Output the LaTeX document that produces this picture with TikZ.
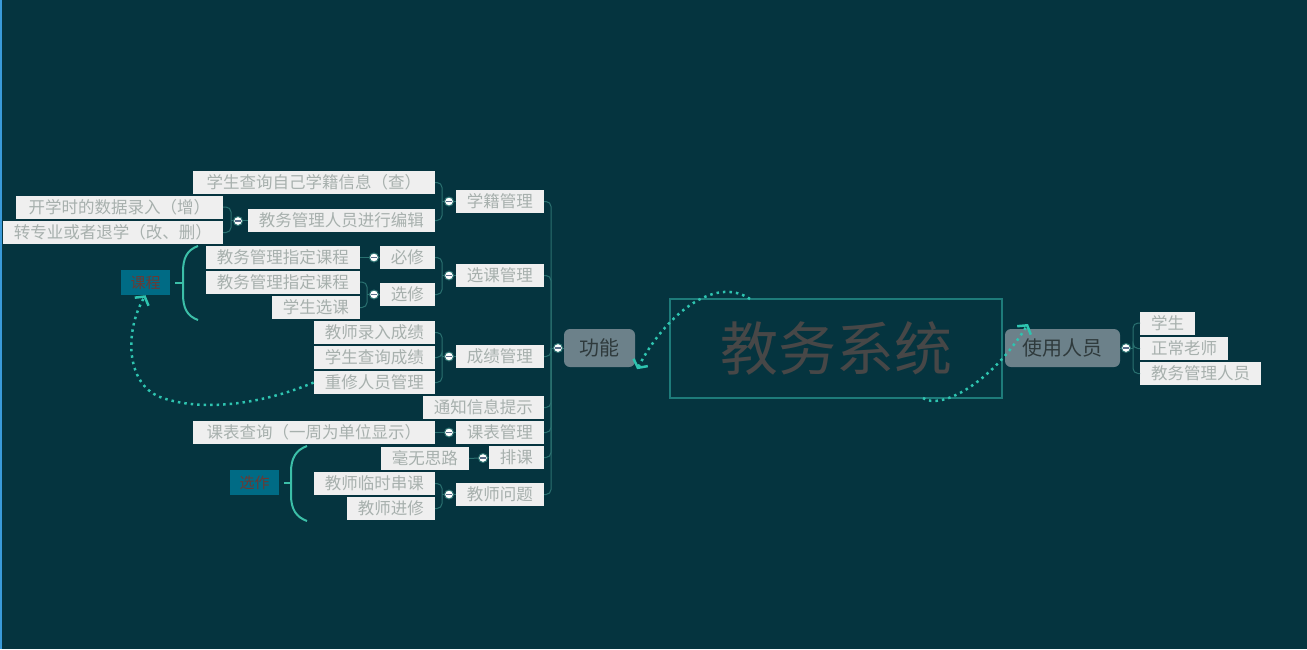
\documentclass[tikz,border=0pt]{standalone}
\usepackage{fontspec}
\setmainfont{Noto Sans CJK SC}
\usetikzlibrary{arrows.meta}

\definecolor{bgcol}{HTML}{05343F}
\definecolor{leftcol}{HTML}{3A9AD9}
\definecolor{leafbg}{HTML}{EFEFEF}
\definecolor{leaftext}{HTML}{A7B0AD}
\definecolor{linecol}{HTML}{2A7170}
\definecolor{topicbg}{HTML}{6C818A}
\definecolor{topictext}{HTML}{2F3A3C}
\definecolor{tagbg}{HTML}{006B85}
\definecolor{tagtext}{HTML}{6A3A34}
\definecolor{mainframe}{HTML}{1E7B7A}
\definecolor{maintext}{HTML}{474747}
\definecolor{relcol}{HTML}{2EC4B0}
\definecolor{bracecol}{HTML}{3CBFA8}
\definecolor{minuscol}{HTML}{5A6E8A}

\begin{document}
\begin{tikzpicture}[x=1pt,y=-1pt,
    leaf/.style={fill=leafbg, text=leaftext, inner xsep=11pt, inner ysep=0pt,
      minimum height=23pt, font=\fontsize{16.5}{18}\selectfont},
    topic/.style={fill=topicbg, text=topictext, rounded corners=6pt, inner sep=0pt,
      minimum height=38pt, font=\fontsize{20}{22}\selectfont},
    tag/.style={fill=tagbg, text=tagtext, inner sep=0pt, minimum width=49pt,
      minimum height=25pt, font=\fontsize{15}{16}\selectfont},
    link/.style={draw=linecol, line width=1pt, rounded corners=5pt},
    fold/.style={circle, fill=white, draw=linecol, line width=1pt, minimum size=9pt, inner sep=0pt,
      path picture={\draw[minuscol, line width=1.3pt]
        ([xshift=-2.6pt]path picture bounding box.center) -- ([xshift=2.6pt]path picture bounding box.center);}},
    rel/.style={draw=relcol, line width=2.5pt, dash pattern=on 2.5pt off 4pt,
      -{Straight Barb[length=6pt,width=16pt]}},
    brace/.style={draw=bracecol, line width=2pt}]

    % background
    \fill[bgcol] (0,0) rectangle (1307,649);
    \useasboundingbox (0,0) rectangle (1307,649);
    \draw[leftcol, line width=2pt] (1,0) -- (1,649);

    % central topic
    \node[draw=mainframe, line width=1.5pt, minimum width=332pt, minimum height=99pt, inner sep=0pt,
      text=maintext, font=\fontsize{58}{60}\selectfont] (zhuti) at (836,348.5) {教务系统};
    \node[topic, minimum width=71pt] (gongneng) at (599.5,348) {功能};
    \node[topic, minimum width=115pt] (renyuan) at (1062.5,348) {使用人员};

    % right side
    \node[leaf, anchor=west] (xuesheng) at (1140,323) {学生};
    \node[leaf, anchor=west] (laoshi) at (1140,348.5) {正常老师};
    \node[leaf, anchor=west] (guanli) at (1140,373.5) {教务管理人员};

    % first level of 功能
    \node[leaf, anchor=east] (xueji) at (544,201.5) {学籍管理};
    \node[leaf, anchor=east] (xuanke) at (544,275.5) {选课管理};
    \node[leaf, anchor=east] (chengji) at (544,356.5) {成绩管理};
    \node[leaf, anchor=east] (tongzhi) at (544,407.5) {通知信息提示};
    \node[leaf, anchor=east] (kebiao) at (544,432.5) {课表管理};
    \node[leaf, anchor=east] (paike) at (544,457.5) {排课};
    \node[leaf, anchor=east] (wenti) at (544,494.5) {教师问题};

    % 学籍管理
    \node[leaf, anchor=east, minimum width=242pt] (chaxun) at (435,182.5) {学生查询自己学籍信息（查）};
    \node[leaf, anchor=east] (bianji) at (435,220.5) {教务管理人员进行编辑};
    \node[leaf, anchor=east, minimum width=207pt] (zeng) at (223,207) {开学时的数据录入（增）};
    \node[leaf, anchor=east, minimum width=220pt] (gaishan) at (223,232.5) {转专业或者退学（改、删）};

    % 选课管理
    \node[leaf, anchor=east] (bixiu) at (435,257.5) {必修};
    \node[leaf, anchor=east] (xuanxiu) at (435,294.5) {选修};
    \node[leaf, anchor=east] (zhiding1) at (360,257.5) {教务管理指定课程};
    \node[leaf, anchor=east] (zhiding2) at (360,282) {教务管理指定课程};
    \node[leaf, anchor=east] (xsxk) at (360,307.5) {学生选课};

    % 成绩管理
    \node[leaf, anchor=east] (luru) at (435,332.5) {教师录入成绩};
    \node[leaf, anchor=east] (cxcj) at (435,357.5) {学生查询成绩};
    \node[leaf, anchor=east] (chongxiu) at (435,382.5) {重修人员管理};

    % 课表, 排课, 教师问题
    \node[leaf, anchor=east, minimum width=242pt] (kbcx) at (435,432.5) {课表查询（一周为单位显示）};
    \node[leaf, anchor=east] (wusi) at (469,458.5) {毫无思路};
    \node[leaf, anchor=east] (chuanke) at (435,483.5) {教师临时串课};
    \node[leaf, anchor=east] (jinxiu) at (435,508.5) {教师进修};

    % labels with braces
    \node[tag] (kecheng) at (145.5,282.5) {课程};
    \node[tag] (xuanzuo) at (254.5,482.5) {选作};
    \draw[brace] ([xshift=5pt]kecheng.east) -- ++(8,0);
    \draw[brace] (198,246) .. controls (187,250) and (183,258) .. (183,272) -- (183,294)
      .. controls (183,308) and (187,316) .. (198,320);
    \draw[brace] ([xshift=5pt]xuanzuo.east) -- ++(7,0);
    \draw[brace] (307,446) .. controls (296,450) and (291,458) .. (291,472) -- (291,495)
      .. controls (291,509) and (296,517) .. (307,521);

    % junctions
    \coordinate (jgn) at (551,348);
    \coordinate (jxj) at (442,201.5);
    \coordinate (jbj) at (231,220.5);
    \coordinate (jxk) at (442,275.5);
    \coordinate (jxx) at (367,294.5);
    \coordinate (jcj) at (442,356.5);
    \coordinate (jwt) at (442,494.5);
    \coordinate (jry) at (1133,348);

    % connectors
    \draw[link] (jgn) -- (gongneng.west);
    \foreach \c in {xueji,xuanke,chengji,tongzhi,kebiao,paike,wenti}
        \draw[link] (jgn) |- (\c.east);
    \draw[link] (jxj) -- (xueji.west);
    \foreach \c in {chaxun,bianji}
        \draw[link] (jxj) |- (\c.east);
    \draw[link] (jbj) -- (bianji.west);
    \foreach \c in {zeng,gaishan}
        \draw[link] (jbj) |- (\c.east);
    \draw[link] (jxk) -- (xuanke.west);
    \foreach \c in {bixiu,xuanxiu}
        \draw[link] (jxk) |- (\c.east);
    \draw[link] (bixiu.west) -- (zhiding1.east);
    \draw[link] (jxx) -- (xuanxiu.west);
    \foreach \c in {zhiding2,xsxk}
        \draw[link] (jxx) |- (\c.east);
    \draw[link] (jcj) -- (chengji.west);
    \foreach \c in {luru,cxcj,chongxiu}
        \draw[link] (jcj) |- (\c.east);
    \draw[link] (kebiao.west) -- (kbcx.east);
    \draw[link] (paike.west) -- (wusi.east);
    \draw[link] (jwt) -- (wenti.west);
    \foreach \c in {chuanke,jinxiu}
        \draw[link] (jwt) |- (\c.east);
    \draw[link] (renyuan.east) -- (jry);
    \foreach \c in {xuesheng,laoshi,guanli}
        \draw[link] (jry) |- (\c.west);

    % collapse buttons
    \node[fold] (fgn) at (558,348) {};
    \node[fold] (fxj) at (449,201.5) {};
    \node[fold] (fbj) at (238,221) {};
    \node[fold] (fxk) at (449,275.5) {};
    \node[fold] (fbx) at (374,257.5) {};
    \node[fold] (fxx) at (374,294.5) {};
    \node[fold] (fcj) at (449,356.5) {};
    \node[fold] (fkb) at (449,432.5) {};
    \node[fold] (fpk) at (483,458) {};
    \node[fold] (fwt) at (449,494.5) {};
    \node[fold] (fry) at (1126,348) {};

    % relationships
    \draw[rel] (750,299) .. controls (715,275) and (665,315) .. ([xshift=2pt,yshift=-2pt]gongneng.south east);
    \draw[rel] (923,398) .. controls (940,410) and (990,385) .. (1028,324);
    \draw[rel] (chongxiu.west) .. controls (260,405) and (200,412) .. (160,397)
      .. controls (125,383) and (125,330) .. (kecheng.south);
\end{tikzpicture}
\end{document}
